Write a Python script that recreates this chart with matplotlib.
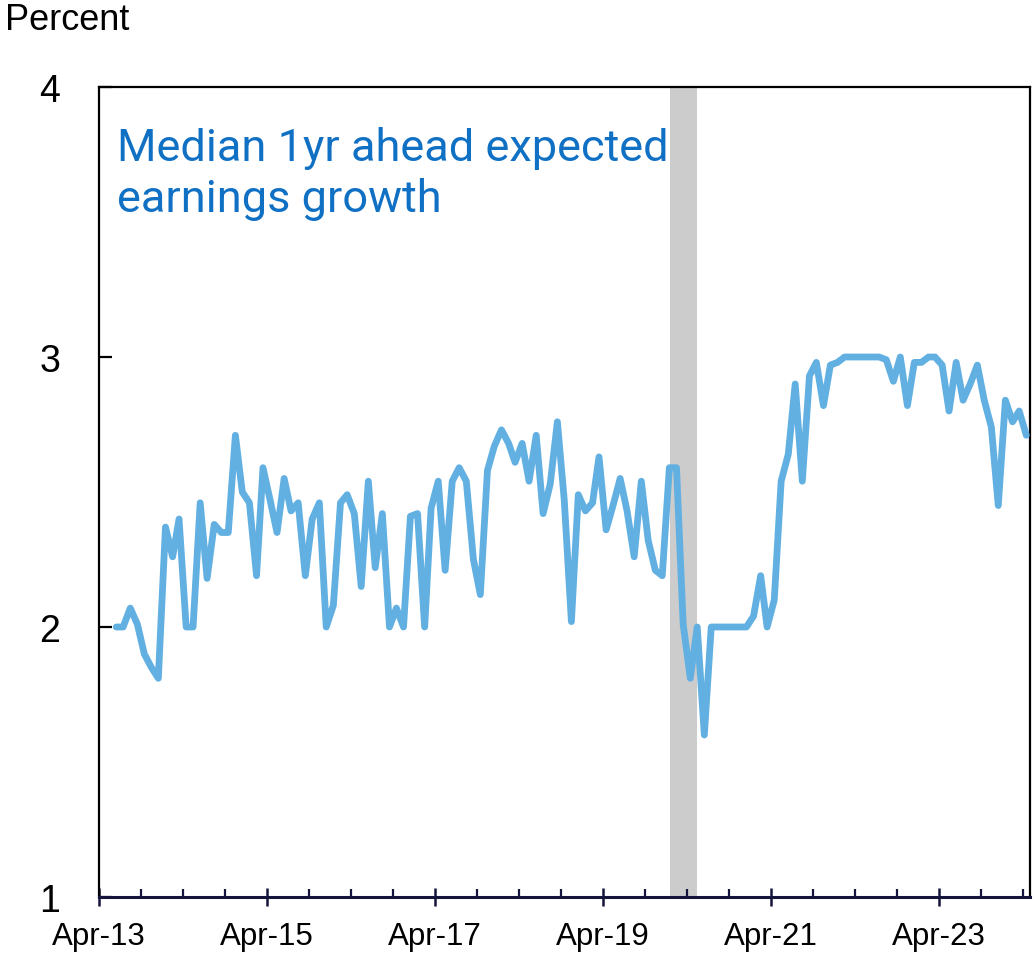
import matplotlib
matplotlib.use('Agg')
import matplotlib.pyplot as plt
import matplotlib.dates as mdates
from matplotlib.ticker import FixedLocator
import pandas as pd

# monthly median expected earnings growth, Jun-2013 .. Apr-2024
v2013 = [2.00, 2.00, 2.07, 2.01, 1.90, 1.85, 1.81]
v2014 = [2.37, 2.26, 2.40, 2.00, 2.00, 2.46, 2.18, 2.38, 2.35, 2.35, 2.71, 2.50]
v2015 = [2.46, 2.19, 2.59, 2.47, 2.35, 2.55, 2.43, 2.46, 2.19, 2.40, 2.46, 2.00]
v2016 = [2.08, 2.46, 2.49, 2.42, 2.15, 2.54, 2.22, 2.42, 2.00, 2.07, 2.00, 2.41]
v2017 = [2.42, 2.00, 2.44, 2.54, 2.21, 2.54, 2.59, 2.54, 2.25, 2.12, 2.58, 2.67]
v2018 = [2.73, 2.68, 2.61, 2.68, 2.54, 2.71, 2.42, 2.53, 2.76, 2.47, 2.02, 2.49]
v2019 = [2.43, 2.46, 2.63, 2.36, 2.45, 2.55, 2.43, 2.26, 2.54, 2.32, 2.21, 2.19]
v2020 = [2.59, 2.59, 2.01, 1.81, 2.00, 1.60, 2.00, 2.00, 2.00, 2.00, 2.00, 2.00]
v2021 = [2.04, 2.19, 2.00, 2.10, 2.54, 2.64, 2.90, 2.54, 2.93, 2.98, 2.82, 2.97]
v2022 = [2.98, 3.00, 3.00, 3.00, 3.00, 3.00, 3.00, 2.99, 2.91, 3.00, 2.82, 2.98]
v2023 = [2.98, 3.00, 3.00, 2.97, 2.80, 2.98, 2.84, 2.90, 2.97, 2.84, 2.74, 2.45]
v2024 = [2.84, 2.76, 2.80, 2.71]

values = (v2013 + v2014 + v2015 + v2016 + v2017 + v2018 + v2019 + v2020
          + v2021 + v2022 + v2023 + v2024)
dates = pd.date_range('2013-06-01', '2024-04-01', freq='MS') + pd.Timedelta(days=14)

recession = ('2020-01-19', '2020-05-15')
series_label = 'Median 1yr ahead expected\nearnings growth'

line_color = '#62b0e2'
text_blue = '#0f70c4'
navy = '#14143c'

fig = plt.figure(figsize=(10.35, 9.54), dpi=100)
ax = fig.add_axes([99/1035, 1 - 898/954, (1030 - 99)/1035, (898 - 88)/954])

ax.axvspan(pd.Timestamp(recession[0]), pd.Timestamp(recession[1]),
           color='#cccccc', lw=0, zorder=1)
ax.plot(dates, values, color=line_color, lw=4.9, solid_joinstyle='round',
        solid_capstyle='round', zorder=3)

ax.set_xlim(pd.Timestamp('2013-04-01'), pd.Timestamp('2024-05-01'))
ax.set_ylim(1, 4)
ax.set_yticks([1, 2, 3, 4])

major = pd.date_range('2013-04-01', periods=6, freq='24MS')
ax.xaxis.set_major_locator(FixedLocator(mdates.date2num(major)))
ax.xaxis.set_minor_locator(mdates.MonthLocator(bymonth=[4, 10]))
ax.xaxis.set_major_formatter(mdates.DateFormatter('%b-%y'))

for s in ['top', 'left', 'right']:
    ax.spines[s].set_color('black')
    ax.spines[s].set_linewidth(1.6)
ax.spines['bottom'].set_color(navy)
ax.spines['bottom'].set_linewidth(2.2)

ax.tick_params(axis='x', which='major', direction='inout', length=13, width=1.8,
               color=navy, labelsize=22.5, pad=11)
ax.tick_params(axis='x', which='minor', direction='in', length=6, width=1.6,
               color=navy)
ax.tick_params(axis='y', which='major', direction='in', length=9.5, width=1.6,
               color='black', labelsize=27, pad=28)
for lab in ax.get_xticklabels() + ax.get_yticklabels():
    lab.set_family(['Liberation Sans', 'DejaVu Sans'])

ax.text(0.019, 0.952, series_label, transform=ax.transAxes, color=text_blue,
        fontsize=32.5, family=['Roboto', 'DejaVu Sans'], va='top', ha='left',
        linespacing=1.24, zorder=4)

fig.text(5/1035, 1 - 20/954, 'Percent', fontsize=26, va='center', ha='left',
         family=['Liberation Sans', 'DejaVu Sans'])

fig.savefig('out.png', dpi=100)
